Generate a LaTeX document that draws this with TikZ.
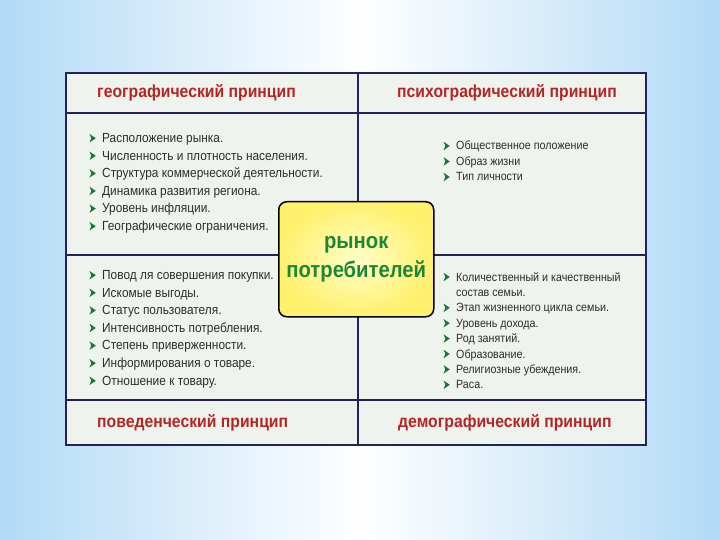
\documentclass[tikz,border=0pt]{standalone}
\usepackage{fontspec}
\setmainfont{Liberation Sans}
\newfontfamily\nar[FakeStretch=0.9]{Liberation Sans}
\usetikzlibrary{shapes.misc}
\definecolor{bgblue}{RGB}{178,218,246}
\definecolor{cellfill}{RGB}{238,243,237}
\definecolor{navy}{RGB}{35,35,90}
\definecolor{headred}{RGB}{178,38,38}
\definecolor{bulgreen}{RGB}{25,120,55}
\definecolor{centergreen}{RGB}{30,135,55}
\definecolor{yelout}{RGB}{255,240,110}
\definecolor{yelin}{RGB}{255,255,200}
\definecolor{txt}{RGB}{45,45,45}
\tikzset{
  head/.style={anchor=base west, inner sep=0pt, text=headred, font=\nar\bfseries\fontsize{17.5}{19}\selectfont},
  itemA/.style={anchor=base west, inner sep=0pt, text=txt, font=\nar\fontsize{13.2}{15}\selectfont},
  itemB/.style={anchor=base west, inner sep=0pt, text=txt, font=\nar\fontsize{11.9}{13}\selectfont},
  grid/.style={draw=navy, line width=2pt},
  vgrid/.style={draw=navy, line width=1.5pt},
  bulshape/.pic={\fill[bulgreen] (0,-4.3) -- (6.3,0) -- (0,4.3) -- (1.8,0) -- cycle;}
}
\begin{document}
\begin{tikzpicture}[x=1pt,y=-1pt]
\useasboundingbox (0,0) rectangle (720,540);
\shade[left color=bgblue, right color=bgblue, middle color=white] (0,0) rectangle (720,540);
% table
\fill[cellfill] (66,73) rectangle (646,445);
\draw[vgrid] (358,73) -- (358,201);
\draw[vgrid] (358,316) -- (358,445);
\draw[grid] (66,113) -- (646,113);
\draw[grid] (66,400) -- (646,400);
\draw[grid] (66,255) -- (278,255);
\draw[grid] (433,255) -- (646,255);
\draw[grid] (66,73) rectangle (646,445);
% center box
\node[draw=black, line width=1.5pt, rounded corners=8pt, inner color=yelin, outer color=yelout,
      minimum width=155pt, minimum height=115pt, inner sep=0pt, anchor=north west] (center) at (278,201) {};
\node[align=center, text=centergreen, font=\nar\bfseries\fontsize{22.5}{29}\selectfont] (centertext) at (center.center) {рынок\\потребителей};
% headers
\node[head] (h1) at (97,97.5) {географический принцип};
\node[head] (h2) at (397,97.5) {психографический принцип};
\node[head] (h3) at (97,427.5) {поведенческий принцип};
\node[head] (h4) at (398,427.5) {демографический принцип};
% top-left list
\foreach \t [count=\i] in {Расположение рынка., Численность и плотность населения., Структура коммерческой деятельности., Динамика развития региона., Уровень инфляции., Географические ограничения.}{
  \node[itemA] (tl\i) at (102,{142.5+17.6*(\i-1)}) {\t};
  \pic at (89.5,{138.2+17.6*(\i-1)}) {bulshape};
}
% top-right list
\foreach \t [count=\i] in {Общественное положение, Образ жизни, Тип личности}{
  \node[itemB] (tr\i) at (456,{150+15.5*(\i-1)}) {\t};
  \pic at (443.5,{146+15.5*(\i-1)}) {bulshape};
}
% bottom-left list
\foreach \t [count=\i] in {Повод ля совершения покупки., Искомые выгоды., Статус пользователя., Интенсивность потребления., Степень приверженности., Информирования о товаре., Отношение к товару.}{
  \node[itemA] (bl\i) at (102,{279.5+17.6*(\i-1)}) {\t};
  \pic at (89.5,{275.2+17.6*(\i-1)}) {bulshape};
}
% bottom-right list
\foreach \t/\b [count=\i] in {Количественный и качественный/1, состав семьи./0, Этап жизненного цикла семьи./1, Уровень дохода./1, Род занятий./1, Образование./1, Религиозные убеждения./1, Раса./1}{
  \node[itemB] (br\i) at (456,{281+15.4*(\i-1)}) {\t};
  \ifnum\b=1 \pic at (443.5,{277+15.4*(\i-1)}) {bulshape};\fi
}
\end{tikzpicture}
\end{document}
